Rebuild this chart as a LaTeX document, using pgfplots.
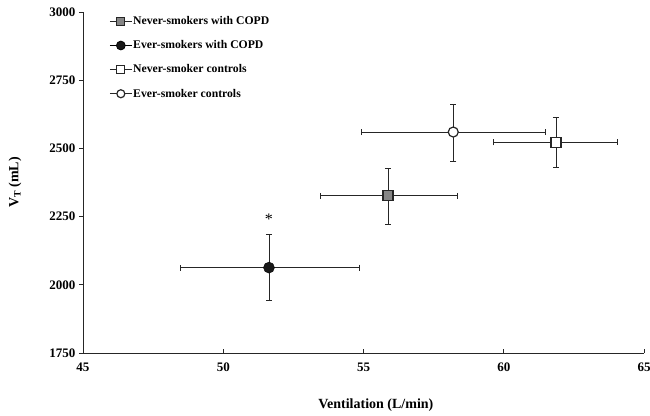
\documentclass[border=0pt]{standalone}
\usepackage{pgfplots}
\pgfplotsset{compat=1.18}
\usepackage{fontspec}
\setmainfont{Liberation Serif}

% x, y, x err +, x err -, y err +, y err -
\pgfplotstableread{
x     y     exp   exm   eyp   eym
55.87 2326  2.46  2.42  102   103
}\neverCOPD
\pgfplotstableread{
x     y     exp   exm   eyp   eym
51.63 2063  3.21  3.14  122   122
}\everCOPD
\pgfplotstableread{
x     y     exp   exm   eyp   eym
61.86 2522  2.20  2.23  91    93
}\neverCtrl
\pgfplotstableread{
x     y     exp   exm   eyp   eym
58.20 2560  3.28  3.28  100   106
}\everCtrl

\begin{document}
\begin{tikzpicture}
\begin{axis}[
  name=ax, at={(0,0)}, anchor=south west,
  scale only axis, width=561pt, height=341pt,
  xmin=45, xmax=65, ymin=1750, ymax=3000,
  xtick={45,50,...,65}, ytick={1750,2000,...,3000},
  axis x line=bottom, axis y line=left,
  axis line style={-, line width=0.9pt, black!85},
  tick align=inside, major tick length=4pt,
  tick style={black!85, line width=0.8pt},
  ytick style={xshift=-4pt},
  minor tick num=0,
  /pgf/number format/assume math mode=true,
  /pgf/number format/1000 sep={},
  ticklabel style={font=\fontsize{13}{15}\selectfont\bfseries},
  xticklabel style={yshift=-6pt},
  yticklabel style={xshift=-4pt},
  xlabel={\textbf{Ventilation (L/min)}},
  ylabel={\textbf{V\textsubscript{T} (mL)}},
  label style={font=\fontsize{14}{16}\selectfont},
  xlabel style={at={(axis description cs:0.522,-0.152)}, anchor=center},
  ylabel style={at={(axis description cs:-0.121,0.5)}, anchor=center, rotate=0},
  legend style={at={(axis description cs:0.045,0.993)}, anchor=north west,
    draw=none, fill=none, font=\fontsize{11.7}{13}\selectfont\bfseries,
    row sep=12.5pt, legend cell align=left, inner sep=1pt,
    nodes={inner sep=1pt}},
  legend image code/.code={%
    \draw[#1, sharp plot, line width=0.8pt, mark repeat=2, mark phase=2,
      every mark/.append style={scale=0.8}]
      plot coordinates {(0pt,0pt) (11pt,0pt) (22pt,0pt)};},
  clip=false,
  error bars/error bar style={line width=0.8pt, black!85},
  error bars/error mark options={rotate=90, mark size=3pt, line width=0.8pt, black!85},
]
\addplot+[only marks, mark=square*, mark size=5pt, black!85, mark options={fill=gray!95, line width=1.2pt},
  error bars/.cd, x dir=both, x explicit, y dir=both, y explicit]
  table[x=x, y=y, x error plus=exp, x error minus=exm, y error plus=eyp, y error minus=eym] {\neverCOPD};
\addlegendentry{Never-smokers with COPD}
\addplot+[only marks, mark=*, mark size=5.5pt, black, mark options={fill=black!90},
  error bars/.cd, x dir=both, x explicit, y dir=both, y explicit]
  table[x=x, y=y, x error plus=exp, x error minus=exm, y error plus=eyp, y error minus=eym] {\everCOPD};
\addlegendentry{Ever-smokers with COPD}
\addplot+[only marks, mark=square*, mark size=5pt, black!85, mark options={fill=white, line width=1.2pt},
  error bars/.cd, x dir=both, x explicit, y dir=both, y explicit]
  table[x=x, y=y, x error plus=exp, x error minus=exm, y error plus=eyp, y error minus=eym] {\neverCtrl};
\addlegendentry{Never-smoker controls}
\addplot+[only marks, mark=*, mark size=5pt, black!85, mark options={fill=white, line width=1.2pt},
  error bars/.cd, x dir=both, x explicit, y dir=both, y explicit]
  table[x=x, y=y, x error plus=exp, x error minus=exm, y error plus=eyp, y error minus=eym] {\everCtrl};
\addlegendentry{Ever-smoker controls}
\node[font=\fontsize{16}{18}\selectfont] at (axis cs:51.63,2240) {*};
\end{axis}
\pgfresetboundingbox
\path (-83pt,-62pt) rectangle (567pt,353pt);
\end{tikzpicture}
\end{document}
